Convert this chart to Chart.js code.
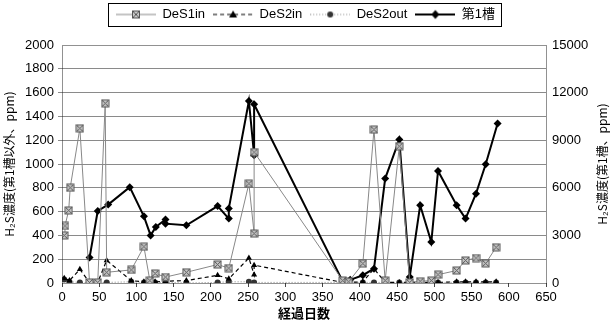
<!DOCTYPE html>
<html>
<head>
<meta charset="utf-8">
<script src="https://cdn.jsdelivr.net/npm/chart.js@4/dist/chart.umd.min.js"></script>
<style>
  html, body { margin: 0; padding: 0; background: #fff; }
</style>
</head>
<body>
<canvas id="c" width="611" height="325"></canvas>
<script>
// 経過日数 / H2S濃度
const des1inDay = [3, 4, 9, 11, 24, 37, 48, 58, 60, 93, 110, 118, 125, 139, 167, 209, 224, 251, 258, 258, 377, 385, 404, 419, 434, 453, 467, 481, 496, 505, 530, 542, 556, 569, 583];
const des1inPpm = [400, 480, 610, 800, 1300, 5, 5, 1510, 90, 110, 305, 20, 80, 50, 90, 155, 125, 835, 415, 1100, 20, 10, 163, 1289, 20, 1150, 5, 15, 20, 70, 105, 190, 210, 165, 300];

const des2inDay = [3, 10, 24, 37, 48, 60, 93, 110, 118, 125, 139, 167, 209, 224, 251, 258, 258, 377, 385, 404, 419, 434, 453, 467, 481, 496, 505, 530, 542, 556, 569, 583];
const des2inPpm = [40, 20, 115, 5, 5, 190, 20, 10, 5, 10, 15, 20, 65, 35, 210, 70, 150, 5, 5, 10, 120, 5, 5, 5, 5, 5, 5, 10, 10, 10, 10, 10];

const des2outDay = [3, 10, 24, 37, 48, 60, 93, 110, 118, 125, 139, 167, 209, 224, 251, 258, 377, 385, 404, 419, 434, 453, 467, 481, 496, 505, 530, 542, 556, 569, 583];
const des2outPpm = [30, 10, 5, 0, 0, 5, 10, 5, 5, 5, 5, 0, 5, 10, 10, 5, 5, 5, 5, 5, 5, 5, 5, 5, 5, 5, 5, 5, 5, 5, 5];

// 第1槽 is on the right axis
const tank1Day = [37, 48, 62, 91, 110, 119, 126, 139, 139, 167, 209, 224, 224, 251, 258, 258, 377, 387, 404, 419, 434, 453, 467, 481, 496, 505, 530, 542, 556, 569, 585];
const tank1Ppm = [1600, 4540, 4940, 6040, 4200, 3000, 3530, 4000, 3740, 3640, 4850, 4060, 4690, 11470, 8050, 11260, 100, 200, 490, 900, 6580, 9050, 380, 4900, 2580, 7060, 4900, 4060, 5630, 7480, 10050];

const seriesNames = ["DeS1in", "DeS2in", "DeS2out", "第1槽"];
const leftTitle = "H₂S濃度(第1槽以外、ppm)";
const rightTitle = "H₂S濃度(第1槽、ppm)";

const pts = (d, v) => d.map((x, i) => ({ x: x, y: v[i] }));

function drawMarker(g, kind, x, y) {
  g.save();
  g.setLineDash([]);
  if (kind === "xbox") {
    g.fillStyle = "#c8c8c8";
    g.strokeStyle = "#555";
    g.lineWidth = 1;
    g.fillRect(x - 3.5, y - 3.5, 7, 7);
    g.strokeRect(x - 3.5, y - 3.5, 7, 7);
    g.beginPath();
    g.moveTo(x - 3.5, y - 3.5); g.lineTo(x + 3.5, y + 3.5);
    g.moveTo(x + 3.5, y - 3.5); g.lineTo(x - 3.5, y + 3.5);
    g.stroke();
  } else if (kind === "tri") {
    g.fillStyle = "#000";
    g.beginPath();
    g.moveTo(x, y - 4); g.lineTo(x + 4, y + 3); g.lineTo(x - 4, y + 3);
    g.closePath(); g.fill();
  } else if (kind === "dot") {
    g.fillStyle = "#333";
    g.beginPath(); g.arc(x, y, 3, 0, Math.PI * 2); g.fill();
  } else {
    g.fillStyle = "#000";
    g.beginPath();
    g.moveTo(x, y - 4.5); g.lineTo(x + 4, y); g.lineTo(x, y + 4.5); g.lineTo(x - 4, y);
    g.closePath(); g.fill();
  }
  g.restore();
}

function legendIcon(kind, color, dash, lw) {
  const c = document.createElement("canvas");
  c.width = 40; c.height = 12;
  const g = c.getContext("2d");
  g.strokeStyle = color;
  g.lineWidth = lw;
  g.setLineDash(dash);
  g.beginPath(); g.moveTo(0, 6); g.lineTo(40, 6); g.stroke();
  drawMarker(g, kind, 20, 6);
  return c;
}

const xboxPoint = (() => {
  const c = document.createElement("canvas");
  c.width = 9; c.height = 9;
  drawMarker(c.getContext("2d"), "xbox", 4.5, 4.5);
  return c;
})();

const icons = [
  legendIcon("xbox", "#888", [], 1),
  legendIcon("tri", "#000", [4, 3], 1.2),
  legendIcon("dot", "#888", [1, 2], 1),
  legendIcon("diamond", "#000", [], 2)
];

const tickFont = { family: "'Liberation Sans', Arial, sans-serif", size: 13 };
const jpFont = { family: "'Noto Sans CJK JP', sans-serif", size: 12 };
const plain = (v) => String(v);

const frame = {
  id: "frame",
  afterInit(chart) {
    const lg = chart.legend;
    const fit = lg.fit;
    lg.fit = function () { fit.call(this); this.height = 45; };
  },
  afterDraw(chart) {
    const { ctx, chartArea: a } = chart;
    ctx.save();
    ctx.strokeStyle = "#222";
    ctx.lineWidth = 1;
    ctx.setLineDash([1, 1]);
    ctx.strokeRect(a.left + 0.5, a.top + 0.5, a.right - a.left, a.bottom - a.top);
    ctx.setLineDash([]);
    const hb = chart.legend.legendHitBoxes;
    if (hb && hb.length) {
      const l = Math.min(...hb.map(h => h.left)) - 8;
      const r = Math.max(...hb.map(h => h.left + h.width)) + 6;
      const t = hb[0].top - 5;
      const b = hb[0].top + hb[0].height + 5;
      ctx.strokeStyle = "#000";
      ctx.strokeRect(Math.round(l) + 0.5, Math.round(t) + 0.5, Math.round(r - l), Math.round(b - t));
    }
    // right axis title reads bottom-to-top like the left one
    ctx.fillStyle = "#000";
    ctx.font = "12px 'Noto Sans CJK JP', sans-serif";
    ctx.textAlign = "center";
    ctx.textBaseline = "middle";
    ctx.translate(602, (a.top + a.bottom) / 2);
    ctx.rotate(-Math.PI / 2);
    ctx.fillText(rightTitle, 0, 0);
    ctx.restore();
  }
};

new Chart(document.getElementById("c"), {
  type: "scatter",
  data: {
    datasets: [
      {
        label: seriesNames[0],
        data: pts(des1inDay, des1inPpm),
        showLine: true,
        borderColor: "#888",
        borderWidth: 1,
        pointStyle: xboxPoint,
        yAxisID: "y"
      },
      {
        label: seriesNames[1],
        data: pts(des2inDay, des2inPpm),
        showLine: true,
        borderColor: "#000",
        borderWidth: 1.2,
        borderDash: [4, 3],
        pointStyle: "triangle",
        pointRadius: 3.5,
        pointBackgroundColor: "#000",
        pointBorderColor: "#000",
        pointBorderWidth: 0,
        yAxisID: "y"
      },
      {
        label: seriesNames[2],
        data: pts(des2outDay, des2outPpm),
        showLine: true,
        borderColor: "#888",
        borderWidth: 1,
        borderDash: [1, 2],
        pointStyle: "circle",
        pointRadius: 3,
        pointBackgroundColor: "#333",
        pointBorderColor: "#333",
        pointBorderWidth: 0,
        yAxisID: "y"
      },
      {
        label: seriesNames[3],
        data: pts(tank1Day, tank1Ppm),
        showLine: true,
        borderColor: "#000",
        borderWidth: 2,
        pointStyle: "rectRot",
        pointRadius: 4,
        pointBackgroundColor: "#000",
        pointBorderColor: "#000",
        pointBorderWidth: 0,
        yAxisID: "y2"
      }
    ]
  },
  options: {
    responsive: false,
    animation: false,
    events: [],
    layout: { padding: 0 },
    plugins: {
      tooltip: { enabled: false },
      legend: {
        position: "top",
        labels: {
          usePointStyle: true,
          pointStyleWidth: 40,
          padding: 8,
          color: "#000",
          font: { family: "'Liberation Sans', Arial, 'Noto Sans CJK JP', sans-serif", size: 13 },
          generateLabels(chart) {
            const items = Chart.defaults.plugins.legend.labels.generateLabels(chart);
            items.forEach((it, i) => { it.pointStyle = icons[i]; });
            return items;
          }
        }
      }
    },
    scales: {
      x: {
        type: "linear",
        min: 0,
        max: 650,
        ticks: { stepSize: 50, color: "#000", font: tickFont, maxRotation: 0, padding: 3, callback: plain },
        grid: { drawOnChartArea: false, tickLength: 4, color: "#444" },
        border: { display: false },
        title: { display: true, text: "経過日数", color: "#000", font: { ...jpFont, size: 13, weight: "bold" }, padding: { top: 0 } },
        afterFit(s) { s.height = 42; }
      },
      y: {
        position: "left",
        min: 0,
        max: 2000,
        ticks: { stepSize: 200, color: "#000", font: tickFont, padding: 4, callback: plain },
        grid: {
          tickLength: 4,
          color: (c) => (c.tick && (c.tick.value === 0 || c.tick.value === 2000)) ? "rgba(0,0,0,0)" : "#8a8a8a"
        },
        border: { display: false },
        title: { display: true, text: leftTitle, color: "#000", font: jpFont, padding: { top: 2, bottom: 2 } },
        afterFit(s) { s.width = 62; }
      },
      y2: {
        position: "right",
        min: 0,
        max: 15000,
        ticks: { stepSize: 3000, color: "#000", font: tickFont, padding: 6, callback: plain },
        grid: { drawOnChartArea: false, drawTicks: false },
        border: { display: false },
        afterFit(s) { s.width = 65; }
      }
    }
  },
  plugins: [frame]
});
</script>
</body>
</html>
